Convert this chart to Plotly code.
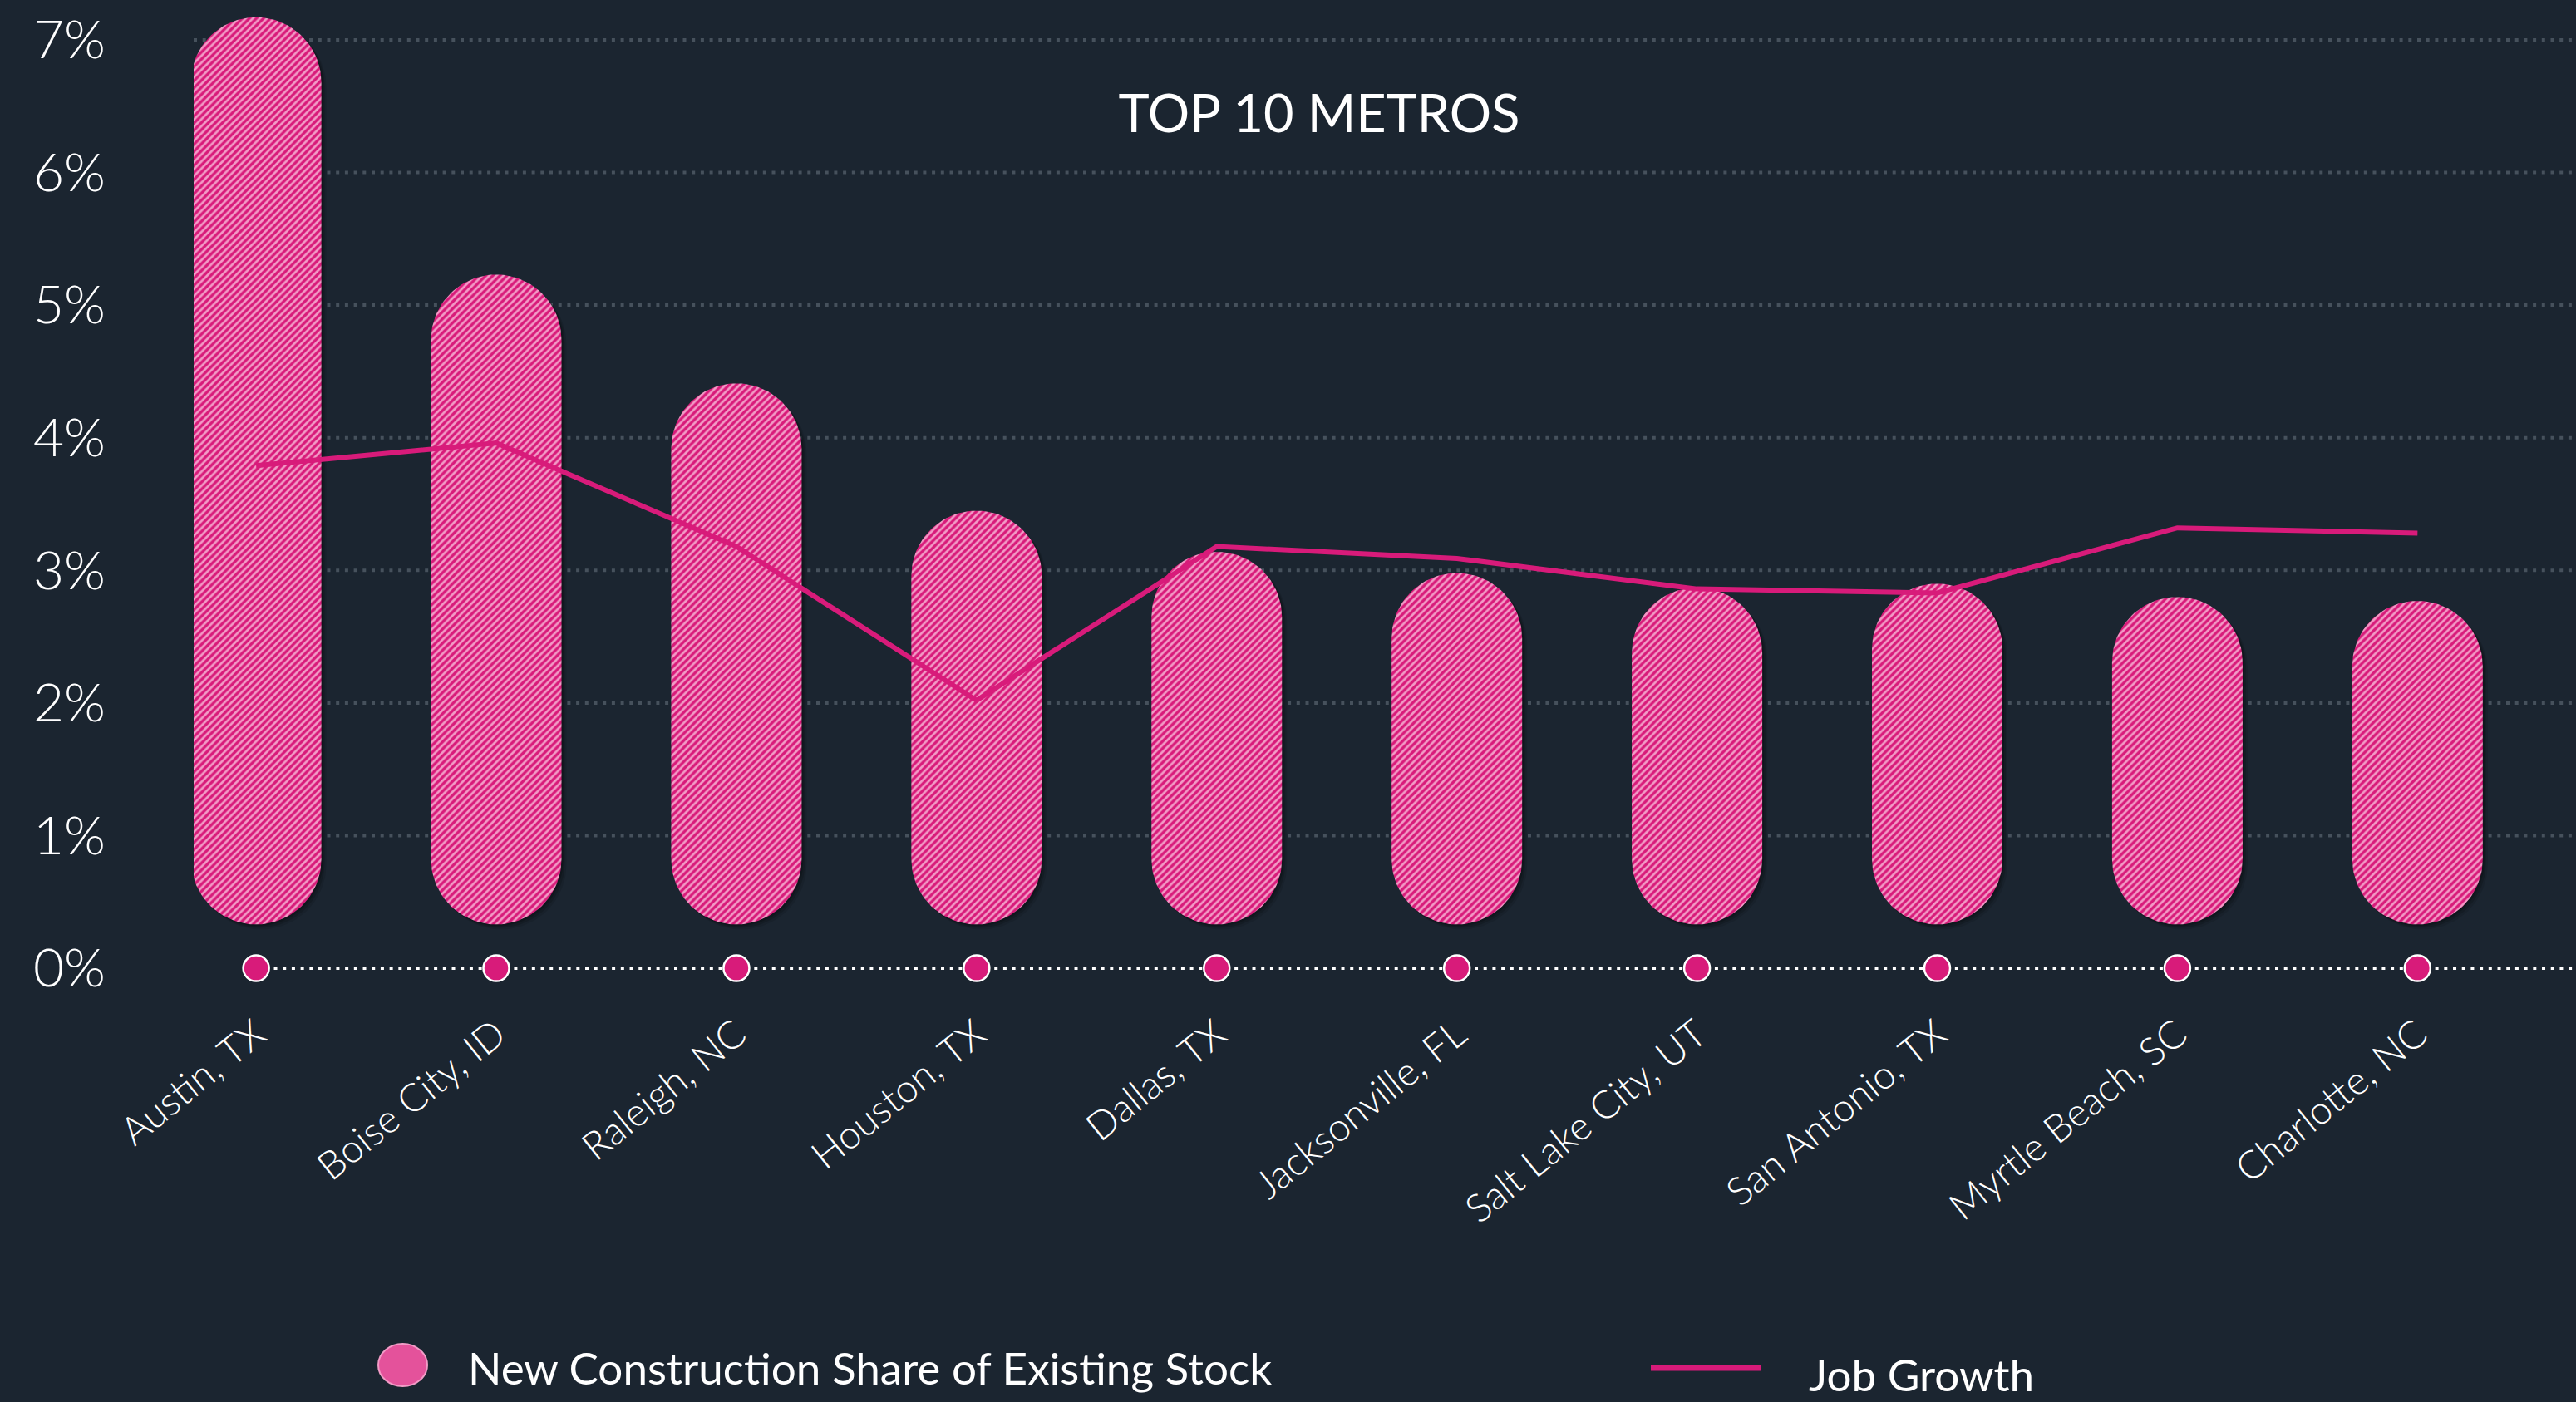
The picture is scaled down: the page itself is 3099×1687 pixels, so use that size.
import numpy as np
import plotly.graph_objects as go

# ---------------- data ----------------
categories = ["Austin, TX", "Boise City, ID", "Raleigh, NC", "Houston, TX", "Dallas, TX",
              "Jacksonville, FL", "Salt Lake City, UT", "San Antonio, TX", "Myrtle Beach, SC",
              "Charlotte, NC"]
new_construction = [7.17, 5.23, 4.41, 3.45, 3.14, 2.98, 2.87, 2.90, 2.80, 2.77]
job_growth = [3.79, 3.96, 3.18, 2.02, 3.18, 3.09, 2.86, 2.83, 3.32, 3.28]
y_ticks = [0, 1, 2, 3, 4, 5, 6, 7]
y_tick_labels = [f"{v}%" for v in y_ticks]

# ---------------- style ----------------
W, H = 3099, 1687
BG = "#1b2530"
PINK = "#d81b7a"
LIGHT_PINK = "#f29bc6"
GRID = "#46515c"

M_L, M_R, M_T = 233, 0, 0
PLOT_BOTTOM = 1197
M_B = H - PLOT_BOTTOM
X_RANGE = [-0.26, 9.66]
Y_RANGE = [-0.2, 7.3]
px_per_unit_y = PLOT_BOTTOM / (Y_RANGE[1] - Y_RANGE[0])
px_per_unit_x = (W - M_L - M_R) / (X_RANGE[1] - X_RANGE[0])

BAR_W_PX = 157
half_w = (BAR_W_PX / 2) / px_per_unit_x      # half bar width in x units
r_y = (BAR_W_PX / 2) / px_per_unit_y         # cap radius in y units
bar_floor = 0.33                              # pills start slightly above the 0% baseline

xpos = list(range(len(categories)))


def pill_outline(values, dx=0.0, dy=0.0):
    """Closed stadium outlines (one per category) in data units, from the values."""
    xs, ys = [], []
    t_top = np.linspace(0, np.pi, 60)
    t_bot = np.linspace(np.pi, 2 * np.pi, 60)
    for xc, top in zip(xpos, values):
        cx = xc + dx
        xs += list(cx + half_w * np.cos(t_top)) + list(cx + half_w * np.cos(t_bot)) + [cx + half_w, None]
        ys += list(top - r_y + dy + r_y * np.sin(t_top)) + \
              list(bar_floor + r_y + dy + r_y * np.sin(t_bot)) + [top - r_y + dy, None]
    return xs, ys


fig = go.Figure()

# soft shadow
for k, a in [(6, 0.10), (4, 0.14), (2, 0.18)]:
    sx, sy = pill_outline(new_construction, dx=k / px_per_unit_x, dy=-k / px_per_unit_y)
    fig.add_trace(go.Scatter(x=sx, y=sy, mode="lines", fill="toself",
                             fillcolor=f"rgba(0,0,0,{a})", line=dict(width=0),
                             showlegend=False, hoverinfo="skip"))

# pills
px_, py_ = pill_outline(new_construction)
fig.add_trace(go.Scatter(
    x=px_, y=py_, mode="lines", fill="toself", fillcolor=PINK,
    fillpattern=dict(shape="/", size=6, solidity=0.45, fgcolor=LIGHT_PINK, bgcolor=PINK,
                     fillmode="replace"),
    line=dict(width=0), name="New Construction Share of Existing Stock",
    showlegend=False, hoverinfo="skip"))

# job growth line
fig.add_trace(go.Scatter(
    x=xpos, y=job_growth, mode="lines", line=dict(color=PINK, width=6),
    name="Job Growth", showlegend=False))

# baseline dots
fig.add_trace(go.Scatter(
    x=xpos, y=[0] * len(categories), mode="markers",
    marker=dict(size=31, color=PINK, line=dict(color="white", width=2.5)),
    showlegend=False, hoverinfo="skip"))

shapes = []
for v in y_ticks[1:]:
    shapes.append(dict(type="line", xref="paper", yref="y", x0=0, x1=1, y0=v, y1=v,
                       line=dict(color=GRID, width=4, dash="4px,6.7px"), layer="below"))
shapes.append(dict(type="line", xref="x", yref="y", x0=xpos[0], x1=X_RANGE[1], y0=0, y1=0,
                   line=dict(color="white", width=4, dash="4px,6.7px"), layer="below"))


def xp(px):
    return (px - M_L) / (W - M_L - M_R)


def yp(py):
    return (PLOT_BOTTOM - py) / PLOT_BOTTOM


# manual legend glyphs
shapes.append(dict(type="circle", xref="paper", yref="paper",
                   x0=xp(455), x1=xp(514), y0=yp(1668), y1=yp(1617),
                   fillcolor="#e4529b", line=dict(color=LIGHT_PINK, width=2)))
shapes.append(dict(type="line", xref="paper", yref="paper",
                   x0=xp(1986), x1=xp(2119), y0=yp(1646), y1=yp(1646),
                   line=dict(color=PINK, width=7)))

annotations = [
    dict(text="New Construction Share of Existing Stock", xref="paper", yref="paper",
         x=xp(561), y=yp(1645), xanchor="left", yanchor="middle", showarrow=False,
         font=dict(family="Lato", size=53, color="white")),
    dict(text="Job Growth", xref="paper", yref="paper",
         x=xp(2174), y=yp(1653), xanchor="left", yanchor="middle", showarrow=False,
         font=dict(family="Lato", size=53, color="white")),
]

fig.update_layout(
    width=W, height=H,
    paper_bgcolor=BG, plot_bgcolor=BG,
    margin=dict(l=M_L, r=M_R, t=M_T, b=M_B, pad=0),
    title=dict(text="TOP 10 METROS", x=1587 / W, y=1 - 137 / H, xref="container", yref="container",
               xanchor="center", yanchor="middle",
               font=dict(family="Lato", size=63, color="white")),
    shapes=shapes,
    annotations=annotations,
    showlegend=False,
    xaxis=dict(range=X_RANGE, tickvals=xpos, ticktext=categories, showgrid=False, zeroline=False,
               showline=False, ticks="",
               tickangle=-39, tickfont=dict(family="Lato", size=47, color="white", weight=300),
               ticklabelstandoff=10),
    yaxis=dict(range=Y_RANGE, tickvals=y_ticks, ticktext=y_tick_labels, showgrid=False,
               zeroline=False, showline=False, ticks="",
               tickfont=dict(family="Lato", size=64, color="white", weight=300),
               ticklabelstandoff=105),
)

fig.write_html(
    "out.html",
    config={"displayModeBar": False},
    post_script="document.body.style.margin='0';document.body.style.background='%s';"
                "document.documentElement.style.overflow='hidden';" % BG,
)
